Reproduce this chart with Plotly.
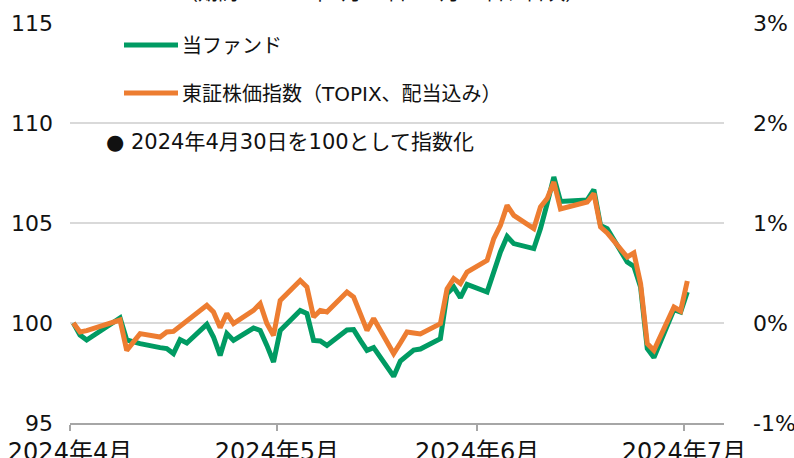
import plotly.graph_objects as go

# ---------------- data ----------------
dates = [
    "2024-04-30",
    "2024-05-01", "2024-05-02", "2024-05-07", "2024-05-08", "2024-05-09", "2024-05-10",
    "2024-05-13", "2024-05-14", "2024-05-15", "2024-05-16", "2024-05-17",
    "2024-05-20", "2024-05-21", "2024-05-22", "2024-05-23", "2024-05-24",
    "2024-05-27", "2024-05-28", "2024-05-29", "2024-05-30", "2024-05-31",
    "2024-06-03", "2024-06-04", "2024-06-05", "2024-06-06", "2024-06-07",
    "2024-06-10", "2024-06-11", "2024-06-12", "2024-06-13", "2024-06-14",
    "2024-06-17", "2024-06-18", "2024-06-19", "2024-06-20", "2024-06-21",
    "2024-06-24", "2024-06-25", "2024-06-26", "2024-06-27", "2024-06-28",
    "2024-07-01", "2024-07-02", "2024-07-03", "2024-07-04", "2024-07-05",
    "2024-07-08", "2024-07-09", "2024-07-10", "2024-07-11", "2024-07-12",
    "2024-07-16", "2024-07-17", "2024-07-18", "2024-07-19",
    "2024-07-22", "2024-07-23", "2024-07-24", "2024-07-25", "2024-07-26",
    "2024-07-29", "2024-07-30", "2024-07-31",
]

fund = [
    100.00,
    99.40, 99.15, 100.25, 99.15, 99.05, 98.97,
    98.77, 98.72, 98.47, 99.17, 99.00,
    99.93, 99.30, 98.38, 99.47, 99.13,
    99.75, 99.63, 98.88, 98.05, 99.63,
    100.63, 100.47, 99.13, 99.10, 98.88,
    99.65, 99.67, 99.13, 98.63, 98.77,
    97.33, 98.10, 98.38, 98.65, 98.70,
    99.22, 101.47, 101.80, 101.27, 101.93,
    101.55, 102.63, 103.55, 104.33, 103.97,
    103.72, 104.72, 105.97, 107.30, 106.08,
    106.15, 106.67, 104.88, 104.72,
    103.05, 102.83, 101.80, 98.72, 98.27,
    100.67, 100.55, 101.55,
]

topix = [
    100.00,
    99.55, 99.62, 100.15, 98.63, 99.05, 99.47,
    99.30, 99.55, 99.58, 99.85, 100.10,
    100.88, 100.55, 99.77, 100.47, 99.97,
    100.63, 100.97, 99.97, 99.38, 101.13,
    102.13, 101.80, 100.30, 100.63, 100.55,
    101.55, 101.30, 100.47, 99.63, 100.22,
    98.47, 99.00, 99.55, 99.50, 99.45,
    99.97, 101.70, 102.22, 101.97, 102.55,
    103.13, 104.22, 104.88, 105.88, 105.38,
    104.72, 105.80, 106.22, 107.05, 105.70,
    106.05, 106.47, 104.80, 104.50,
    103.30, 103.50, 101.97, 98.97, 98.63,
    100.80, 100.60, 102.10,
]

series_names = ["当ファンド", "東証株価指数（TOPIX、配当込み）"]
tick_dates = ["2024-04-30", "2024-05-31", "2024-06-30", "2024-07-31"]
tick_labels = ["2024年4月", "2024年5月", "2024年6月", "2024年7月"]
left_ticks = [95, 100, 105, 110, 115]
right_ticks = [-1, 0, 1, 2, 3]
right_labels = ["-1%", "0%", "1%", "2%", "3%"]
note_text = "● 2024年4月30日を100として指数化"
period_text = "（期間：2024年4月30日～7月31日、日次）"

# ---------------- style ----------------
FONT = "DejaVu Sans, Noto Sans CJK JP, sans-serif"
GREEN = "#009B63"
ORANGE = "#ED7D31"
GRID = "#D9D9D9"
AXIS = "#A6A6A6"
TXT = "#111111"
DAY_MS = 86400000

fig = go.Figure()
fig.add_trace(go.Scatter(
    x=dates, y=fund, name=series_names[0], mode="lines",
    line=dict(color=GREEN, width=5),
    xperiod=DAY_MS, xperiodalignment="middle", showlegend=False,
))
fig.add_trace(go.Scatter(
    x=dates, y=topix, name=series_names[1], mode="lines",
    line=dict(color=ORANGE, width=5),
    xperiod=DAY_MS, xperiodalignment="middle", showlegend=False,
))
# secondary (right) axis holder
fig.add_trace(go.Scatter(x=[None], y=[None], yaxis="y2", showlegend=False, hoverinfo="skip"))

fig.update_layout(
    width=794, height=458,
    margin=dict(l=70, r=70, t=23, b=35, autoexpand=False),
    paper_bgcolor="white", plot_bgcolor="white",
    font=dict(family=FONT, color=TXT),
    xaxis=dict(
        type="date", range=["2024-04-30", "2024-08-06"],
        tickvals=tick_dates, ticktext=tick_labels,
        ticks="outside", ticklen=6, tickwidth=1.5, tickcolor=AXIS,
        showline=True, linecolor=AXIS, linewidth=1.5,
        showgrid=False, zeroline=False, automargin=False,
        tickfont=dict(size=24, family=FONT, color=TXT),
        ticklabelstandoff=0,
    ),
    yaxis=dict(
        range=[95, 115], tickvals=left_ticks,
        showgrid=True, gridcolor=GRID, gridwidth=1.5,
        showline=False, zeroline=False, ticks="", automargin=False,
        tickfont=dict(size=22, family=FONT, color=TXT),
        ticklabelstandoff=16,
    ),
    yaxis2=dict(
        overlaying="y", side="right", range=[-1, 3],
        tickmode="array", tickvals=right_ticks, ticktext=right_labels,
        showgrid=False, zeroline=False, showline=False, ticks="", automargin=False,
        tickfont=dict(size=22, family=FONT, color=TXT),
        ticklabelstandoff=28,
    ),
)

# ---- legend drawn in the plot area ----
def px_x(px):
    return (px - 70) / 654.0

def px_y(py):
    return 1 - (py - 23) / 400.0

legend_rows = [(GREEN, series_names[0], 45), (ORANGE, series_names[1], 93)]
for color, label, py in legend_rows:
    fig.add_shape(type="line", xref="paper", yref="paper",
                  x0=px_x(124), x1=px_x(178), y0=px_y(py), y1=px_y(py),
                  line=dict(color=color, width=5))
    fig.add_annotation(xref="paper", yref="paper", x=px_x(180), y=px_y(py + 1),
                       xanchor="left", yanchor="middle", showarrow=False,
                       text=label, font=dict(size=20, family=FONT, color=TXT))

fig.add_annotation(xref="paper", yref="paper", x=px_x(104), y=px_y(142),
                   xanchor="left", yanchor="middle", showarrow=False,
                   text=note_text, font=dict(size=21, family=FONT, color=TXT))

fig.add_annotation(xref="paper", yref="paper", x=px_x(381), y=px_y(-7),
                   xanchor="center", yanchor="middle", showarrow=False,
                   text=period_text, font=dict(size=20, family=FONT, color=TXT))

fig.write_html("out.html")
